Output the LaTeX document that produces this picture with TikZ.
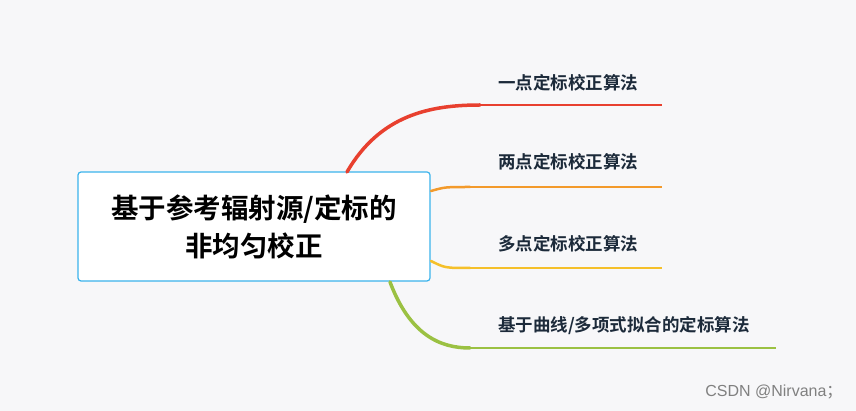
\documentclass[tikz,border=0pt]{standalone}
\usepackage{fontspec}
\newfontfamily\cjk{Noto Sans CJK SC}
\newfontfamily\cjkb{Noto Sans CJK SC Bold}
\definecolor{bg}{HTML}{F7F7F9}
\definecolor{boxc}{HTML}{3BB3EC}
\definecolor{lbl}{HTML}{1C2A3A}
\definecolor{c1}{HTML}{E8402F}
\definecolor{c2}{HTML}{F39A2B}
\definecolor{c3}{HTML}{F5C02A}
\definecolor{c4}{HTML}{9BC143}
\tikzset{
 lab/.style={anchor=west,font=\cjkb\fontsize{17.5}{20}\selectfont,text=lbl,inner sep=0},
 branch/.style={line width=3.5pt,line cap=round},
 under/.style={line width=1.3pt}
}
\begin{document}
\begin{tikzpicture}[x=1pt,y=-1pt]
\fill[bg] (0,0) rectangle (856,411);
\useasboundingbox (0,0) rectangle (856,411);
\node[draw=boxc,line width=1.2pt,fill=white,rounded corners=3pt,minimum width=352pt,minimum height=109pt,align=center,font=\cjkb\fontsize{27.5}{38}\selectfont] (root) at (254,226.5) {基于参考辐射源/定标的\\非均匀校正};
\coordinate (s1) at (347,172); \coordinate (e1) at (480,105); \coordinate (f1) at (662,105);
\coordinate (s2) at (431,191); \coordinate (e2) at (470,187); \coordinate (f2) at (662,187);
\coordinate (s3) at (431,261); \coordinate (e3) at (470,268); \coordinate (f3) at (662,268);
\coordinate (s4) at (390,282); \coordinate (e4) at (470,348); \coordinate (f4) at (776,348);
\draw[branch,c1] (s1) .. controls (380,115) and (430,105) .. (e1);
\draw[under,c1] (e1) -- (f1);
\draw[branch,c2,line width=2.5pt] (s2) .. controls (445,187) .. (e2);
\draw[under,c2] (e2) -- (f2);
\draw[branch,c3,line width=2.5pt] (s3) .. controls (445,268) .. (e3);
\draw[under,c3] (e3) -- (f3);
\draw[branch,c4] (s4) .. controls (410,335) and (440,348) .. (e4);
\draw[under,c4] (e4) -- (f4);
\node[lab] (l1) at (498,83) {一点定标校正算法};
\node[lab] (l2) at (498,162) {两点定标校正算法};
\node[lab] (l3) at (498,244) {多点定标校正算法};
\node[lab] (l4) at (498,326) {基于曲线/多项式拟合的定标算法};
\node[anchor=east,font=\fontspec{Liberation Sans}\fontsize{16}{18}\selectfont,text=gray] (wm) at (846,392) {CSDN @Nirvana\cjk{；}};
\end{tikzpicture}
\end{document}
